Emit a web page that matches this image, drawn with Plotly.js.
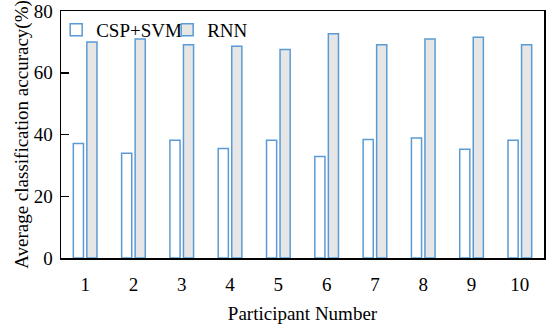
<!DOCTYPE html>
<html>
<head>
<meta charset="utf-8">
<script src="https://cdn.plot.ly/plotly-3.0.1.min.js"></script>
<style>html,body{margin:0;padding:0;background:#fff;}#chart{width:550px;height:326px;}</style>
</head>
<body>
<div id="chart"></div>
<script>
const participants = ['1','2','3','4','5','6','7','8','9','10'];
const cspSvm = [37.1, 33.9, 38.1, 35.5, 38.1, 32.9, 38.4, 38.9, 35.2, 38.1];
const rnn = [70.0, 70.9, 69.1, 68.6, 67.5, 72.6, 69.1, 70.9, 71.5, 69.1];
const yTicks = [0, 20, 40, 60, 80];

const blue = '#5b9bd5';
const font = 'Liberation Serif, Times New Roman, serif';

const traces = [
  {type:'bar', name:'CSP+SVM', x:participants, y:cspSvm,
   marker:{color:'#ffffff', line:{color:blue, width:1.5}}},
  {type:'bar', name:'RNN', x:participants, y:rnn,
   marker:{color:'#e6e6e6', line:{color:blue, width:1.5}}}
];

const layout = {
  width:550, height:326,
  margin:{l:61, r:6, t:11, b:68},
  paper_bgcolor:'#fff', plot_bgcolor:'#fff',
  font:{family:font, size:19, color:'#000'},
  barmode:'group', bargap:0.44, bargroupgap:0.25,
  showlegend:true,
  legend:{orientation:'h', x:-0.01, y:1.0, xanchor:'left', yanchor:'top',
          bgcolor:'rgba(0,0,0,0)', font:{family:font, size:19, color:'#000'},
          entrywidth:66, entrywidthmode:'pixels', tracegroupgap:0},
  xaxis:{type:'category', showline:true, linecolor:'#000', linewidth:1.5, mirror:true,
         ticks:'', showgrid:false, zeroline:false, ticklabelstandoff:9,
         tickfont:{family:font, size:19},
         title:{text:'Participant Number', font:{family:font, size:19}, standoff:12}},
  yaxis:{range:[0,80], tickvals:yTicks, showline:true, linecolor:'#000', linewidth:1.5, mirror:true,
         ticks:'inside', ticklen:8, tickwidth:1.5, tickcolor:'#000',
         showgrid:false, zeroline:false, ticklabelstandoff:3,
         tickfont:{family:font, size:19},
         title:{text:'Average classification accuracy(%)', font:{family:font, size:19}, standoff:0}}
};

Plotly.newPlot('chart', traces, layout, {displayModeBar:false, staticPlot:true});
</script>
</body>
</html>
